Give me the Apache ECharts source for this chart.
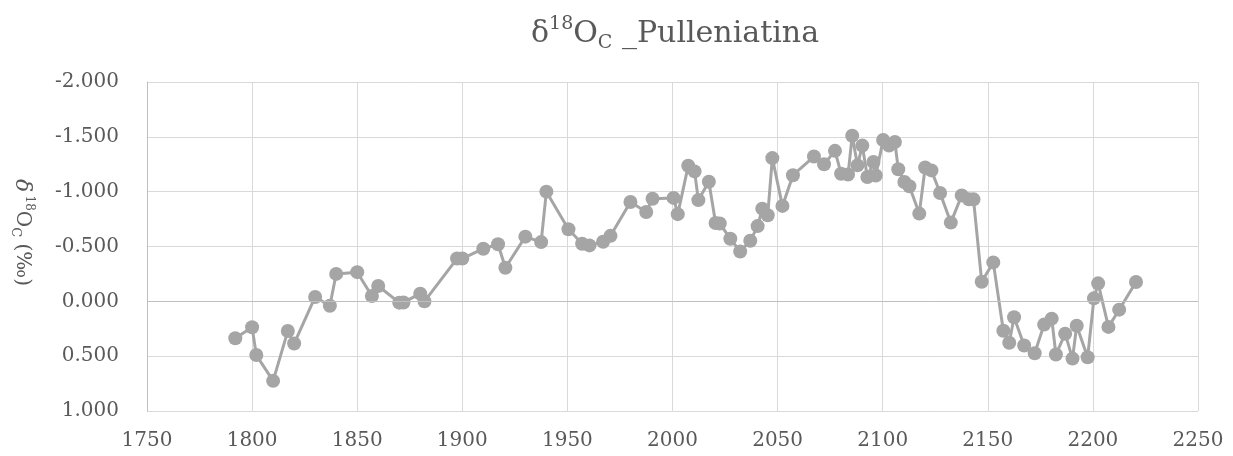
<!DOCTYPE html>
<html>
<head>
<meta charset="utf-8">
<script src="https://cdn.jsdelivr.net/npm/echarts@6/dist/echarts.min.js"></script>
<style>
  html, body { margin: 0; padding: 0; background: #fff; }
  #chart { width: 1233px; height: 456px; }
</style>
</head>
<body>
<div id="chart"></div>
<script>
// age (years) and d18O of Pulleniatina
const years = [
  1792, 1800, 1802, 1810, 1817, 1820, 1830, 1837, 1840, 1850, 1857, 1860, 1870, 1872, 1880, 1882,
  1897.5, 1900, 1910, 1917, 1920.5, 1930, 1937.5, 1940, 1950.5, 1957, 1960.5, 1967, 1970.5,
  1980, 1987.5, 1990.5, 2000.5, 2002.5, 2007.5, 2010.5, 2012.3, 2017.3, 2020.5, 2022.5,
  2027.5, 2032.2, 2037, 2040.5, 2042.7, 2045.3, 2047.5, 2052.3, 2057.3, 2067.3, 2072.1,
  2077.3, 2080.2, 2083.5, 2085.5, 2088, 2090.3, 2092.7, 2095.6, 2096.7, 2100.2, 2103,
  2105.8, 2107.4, 2110.3, 2112.7, 2117.4, 2120.2, 2123.2, 2127.3, 2132.4, 2137.6, 2141,
  2143.2, 2147.1, 2152.6, 2157.4, 2160.2, 2162.5, 2167.3, 2172.3, 2176.8, 2180.4, 2182.4,
  2186.8, 2190.3, 2192.3, 2197.5, 2200.5, 2202.5, 2207.4, 2212.5, 2220.5
];
const d18O = [
  0.336, 0.236, 0.49, 0.725, 0.27, 0.385, -0.04, 0.04, -0.25, -0.266, -0.048, -0.14, 0.012, 0.01, -0.07, 0.0,
  -0.39, -0.39, -0.48, -0.52, -0.306, -0.59, -0.54, -1.0, -0.657, -0.525, -0.51, -0.543, -0.597,
  -0.906, -0.815, -0.936, -0.943, -0.795, -1.237, -1.185, -0.923, -1.09, -0.714, -0.71,
  -0.57, -0.455, -0.552, -0.686, -0.845, -0.785, -1.306, -0.87, -1.15, -1.32, -1.25,
  -1.372, -1.164, -1.156, -1.51, -1.24, -1.42, -1.134, -1.27, -1.148, -1.471, -1.42,
  -1.453, -1.205, -1.088, -1.05, -0.8, -1.22, -1.194, -0.988, -0.718, -0.966, -0.93,
  -0.93, -0.179, -0.355, 0.268, 0.378, 0.145, 0.403, 0.473, 0.212, 0.158, 0.485,
  0.295, 0.522, 0.222, 0.51, -0.027, -0.164, 0.233, 0.076, -0.176
];
const xTicks = [1750, 1800, 1850, 1900, 1950, 2000, 2050, 2100, 2150, 2200, 2250];
const yTicks = [-2, -1.5, -1, -0.5, 0, 0.5, 1];

const textColor = "#595959";
const serif = "DejaVu Serif";
const grey = "#a5a5a5";

let myChart = echarts.init(document.getElementById("chart"));
let option = {
  animation: false,
  title: {
    left: 526,
    top: 10,
    text: "{n|δ}{sup|18}{n|O}{sub|C}{n| _Pulleniatina}",
    textStyle: {
      fontWeight: "normal",
      rich: {
        n: { fontFamily: serif, fontWeight: "normal", fontSize: 30, color: textColor, lineHeight: 38 },
        sup: { fontFamily: serif, fontWeight: "normal", fontSize: 19, color: textColor, verticalAlign: "top", lineHeight: 22 },
        sub: { fontFamily: serif, fontWeight: "normal", fontSize: 19, color: textColor, verticalAlign: "bottom", lineHeight: 18 }
      }
    }
  },
  grid: { left: 147, right: 35, top: 82, bottom: 45, outerBoundsMode: "none" },
  xAxis: {
    type: "value",
    min: xTicks[0],
    max: xTicks[xTicks.length - 1],
    interval: xTicks[1] - xTicks[0],
    axisLine: { show: false },
    axisTick: { show: false },
    splitLine: { lineStyle: { color: "#d9d9d9", width: 1 } },
    axisLabel: {
      color: textColor, fontFamily: serif, fontSize: 20, margin: 20,
      formatter: v => String(v)
    }
  },
  yAxis: {
    type: "value",
    inverse: true,
    min: yTicks[0],
    max: yTicks[yTicks.length - 1],
    interval: yTicks[1] - yTicks[0],
    axisLine: { show: true, lineStyle: { color: "#bfbfbf", width: 1 } },
    axisTick: { show: false },
    splitLine: { lineStyle: { color: "#d9d9d9", width: 1 } },
    axisLabel: {
      color: textColor, fontFamily: serif, fontSize: 20, margin: 28,
      formatter: v => v.toFixed(3)
    },
    name: "{i|δ} {sup|18}{n|O}{sub|C}{e| (‰)}",
    nameLocation: "middle",
    nameRotate: -90,
    nameGap: 112,
    nameTextStyle: {
      rich: {
        i: { fontFamily: serif, fontStyle: "italic", fontSize: 22, color: textColor, lineHeight: 26 },
        n: { fontFamily: serif, fontSize: 20, color: textColor, lineHeight: 26 },
        e: { fontFamily: serif, fontSize: 20, color: textColor, lineHeight: 26, padding: [0, 28, 0, 0] },
        sup: { fontFamily: serif, fontSize: 12, color: textColor, verticalAlign: "top", lineHeight: 14 },
        sub: { fontFamily: serif, fontSize: 13, color: textColor, verticalAlign: "bottom", lineHeight: 14 }
      }
    }
  },
  series: [
    {
      type: "line",
      data: years.map((y, i) => [y, d18O[i]]),
      symbol: "circle",
      symbolSize: 14,
      itemStyle: { color: grey },
      lineStyle: { color: grey, width: 3 },
      markLine: {
        silent: true,
        symbol: "none",
        label: { show: false },
        lineStyle: { color: "#bfbfbf", type: "solid", width: 1 },
        data: [{ yAxis: 0 }]
      }
    }
  ]
};
myChart.setOption(option);
</script>
</body>
</html>
